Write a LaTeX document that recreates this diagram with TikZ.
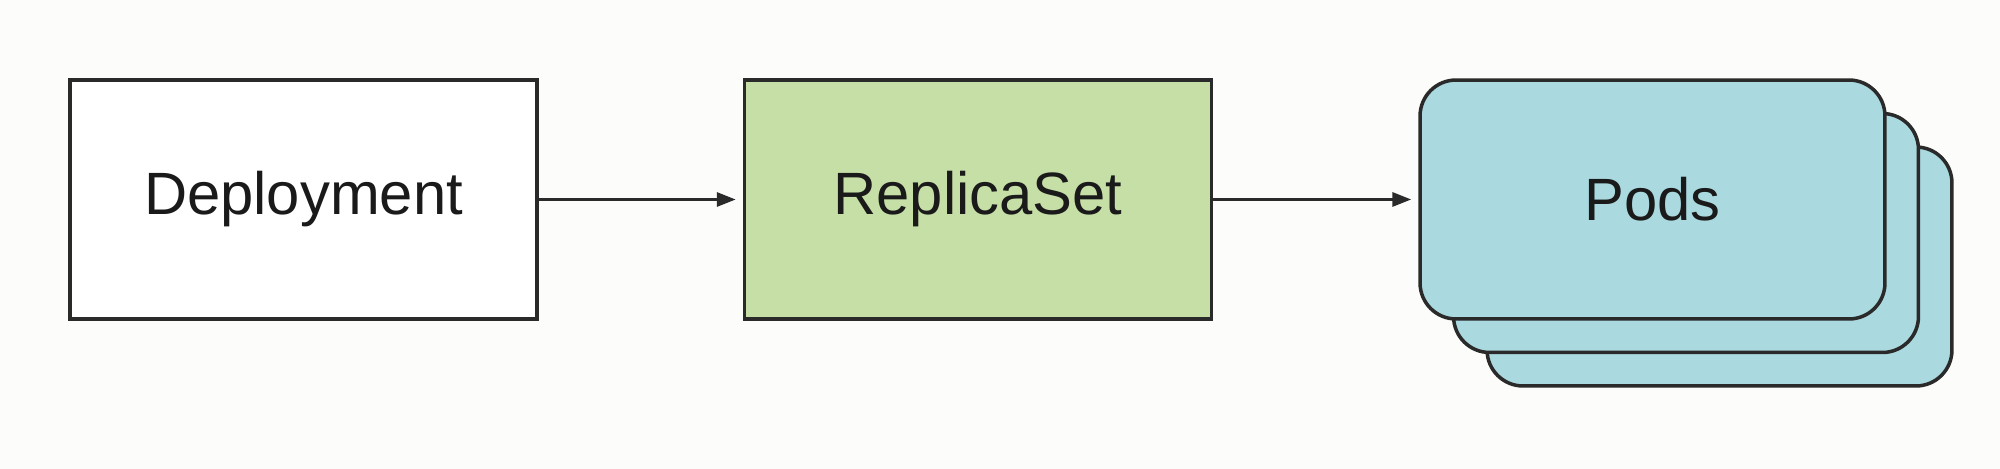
\documentclass[tikz,border=0pt]{standalone}
\usepackage{fontspec}
\setmainfont{Liberation Sans}
\usetikzlibrary{arrows.meta}
\definecolor{edgec}{HTML}{2A2A2A}
\definecolor{textc}{HTML}{1A1A1A}
\definecolor{rsgreen}{HTML}{C5DFA6}
\definecolor{podblue}{HTML}{AADAE0}
\definecolor{bgc}{HTML}{FCFCFA}
\begin{document}
\begin{tikzpicture}[x=0.02cm,y=-0.02cm,
  box/.style={draw=edgec,line width=2pt,minimum width=9.34cm,minimum height=4.78cm,inner sep=0pt,
    text=textc,font=\fontsize{34}{40}\selectfont},
  podbox/.style={box,fill=podblue,rounded corners=0.72cm,minimum width=9.3cm},
  link/.style={draw=edgec,line width=1.8pt,-{Triangle[length=0.38cm,width=0.28cm]},shorten >=0.14cm}]
\fill[bgc] (0,0) rectangle (2000,469);
\useasboundingbox (0,0) rectangle (2000,469);
\node[box,fill=white] (dep) at (303.5,199.5) {Deployment};
\node[box,fill=rsgreen] (rs) at (978,199.5) {ReplicaSet};
\node[podbox] (pods3) at (1719.5,266.5) {};
\node[podbox] (pods2) at (1686,233) {};
\node[podbox] (pods) at (1652.5,199.5) {Pods};
\draw[link] (dep) -- (rs);
\draw[link] (rs) -- (pods);
\end{tikzpicture}
\end{document}
